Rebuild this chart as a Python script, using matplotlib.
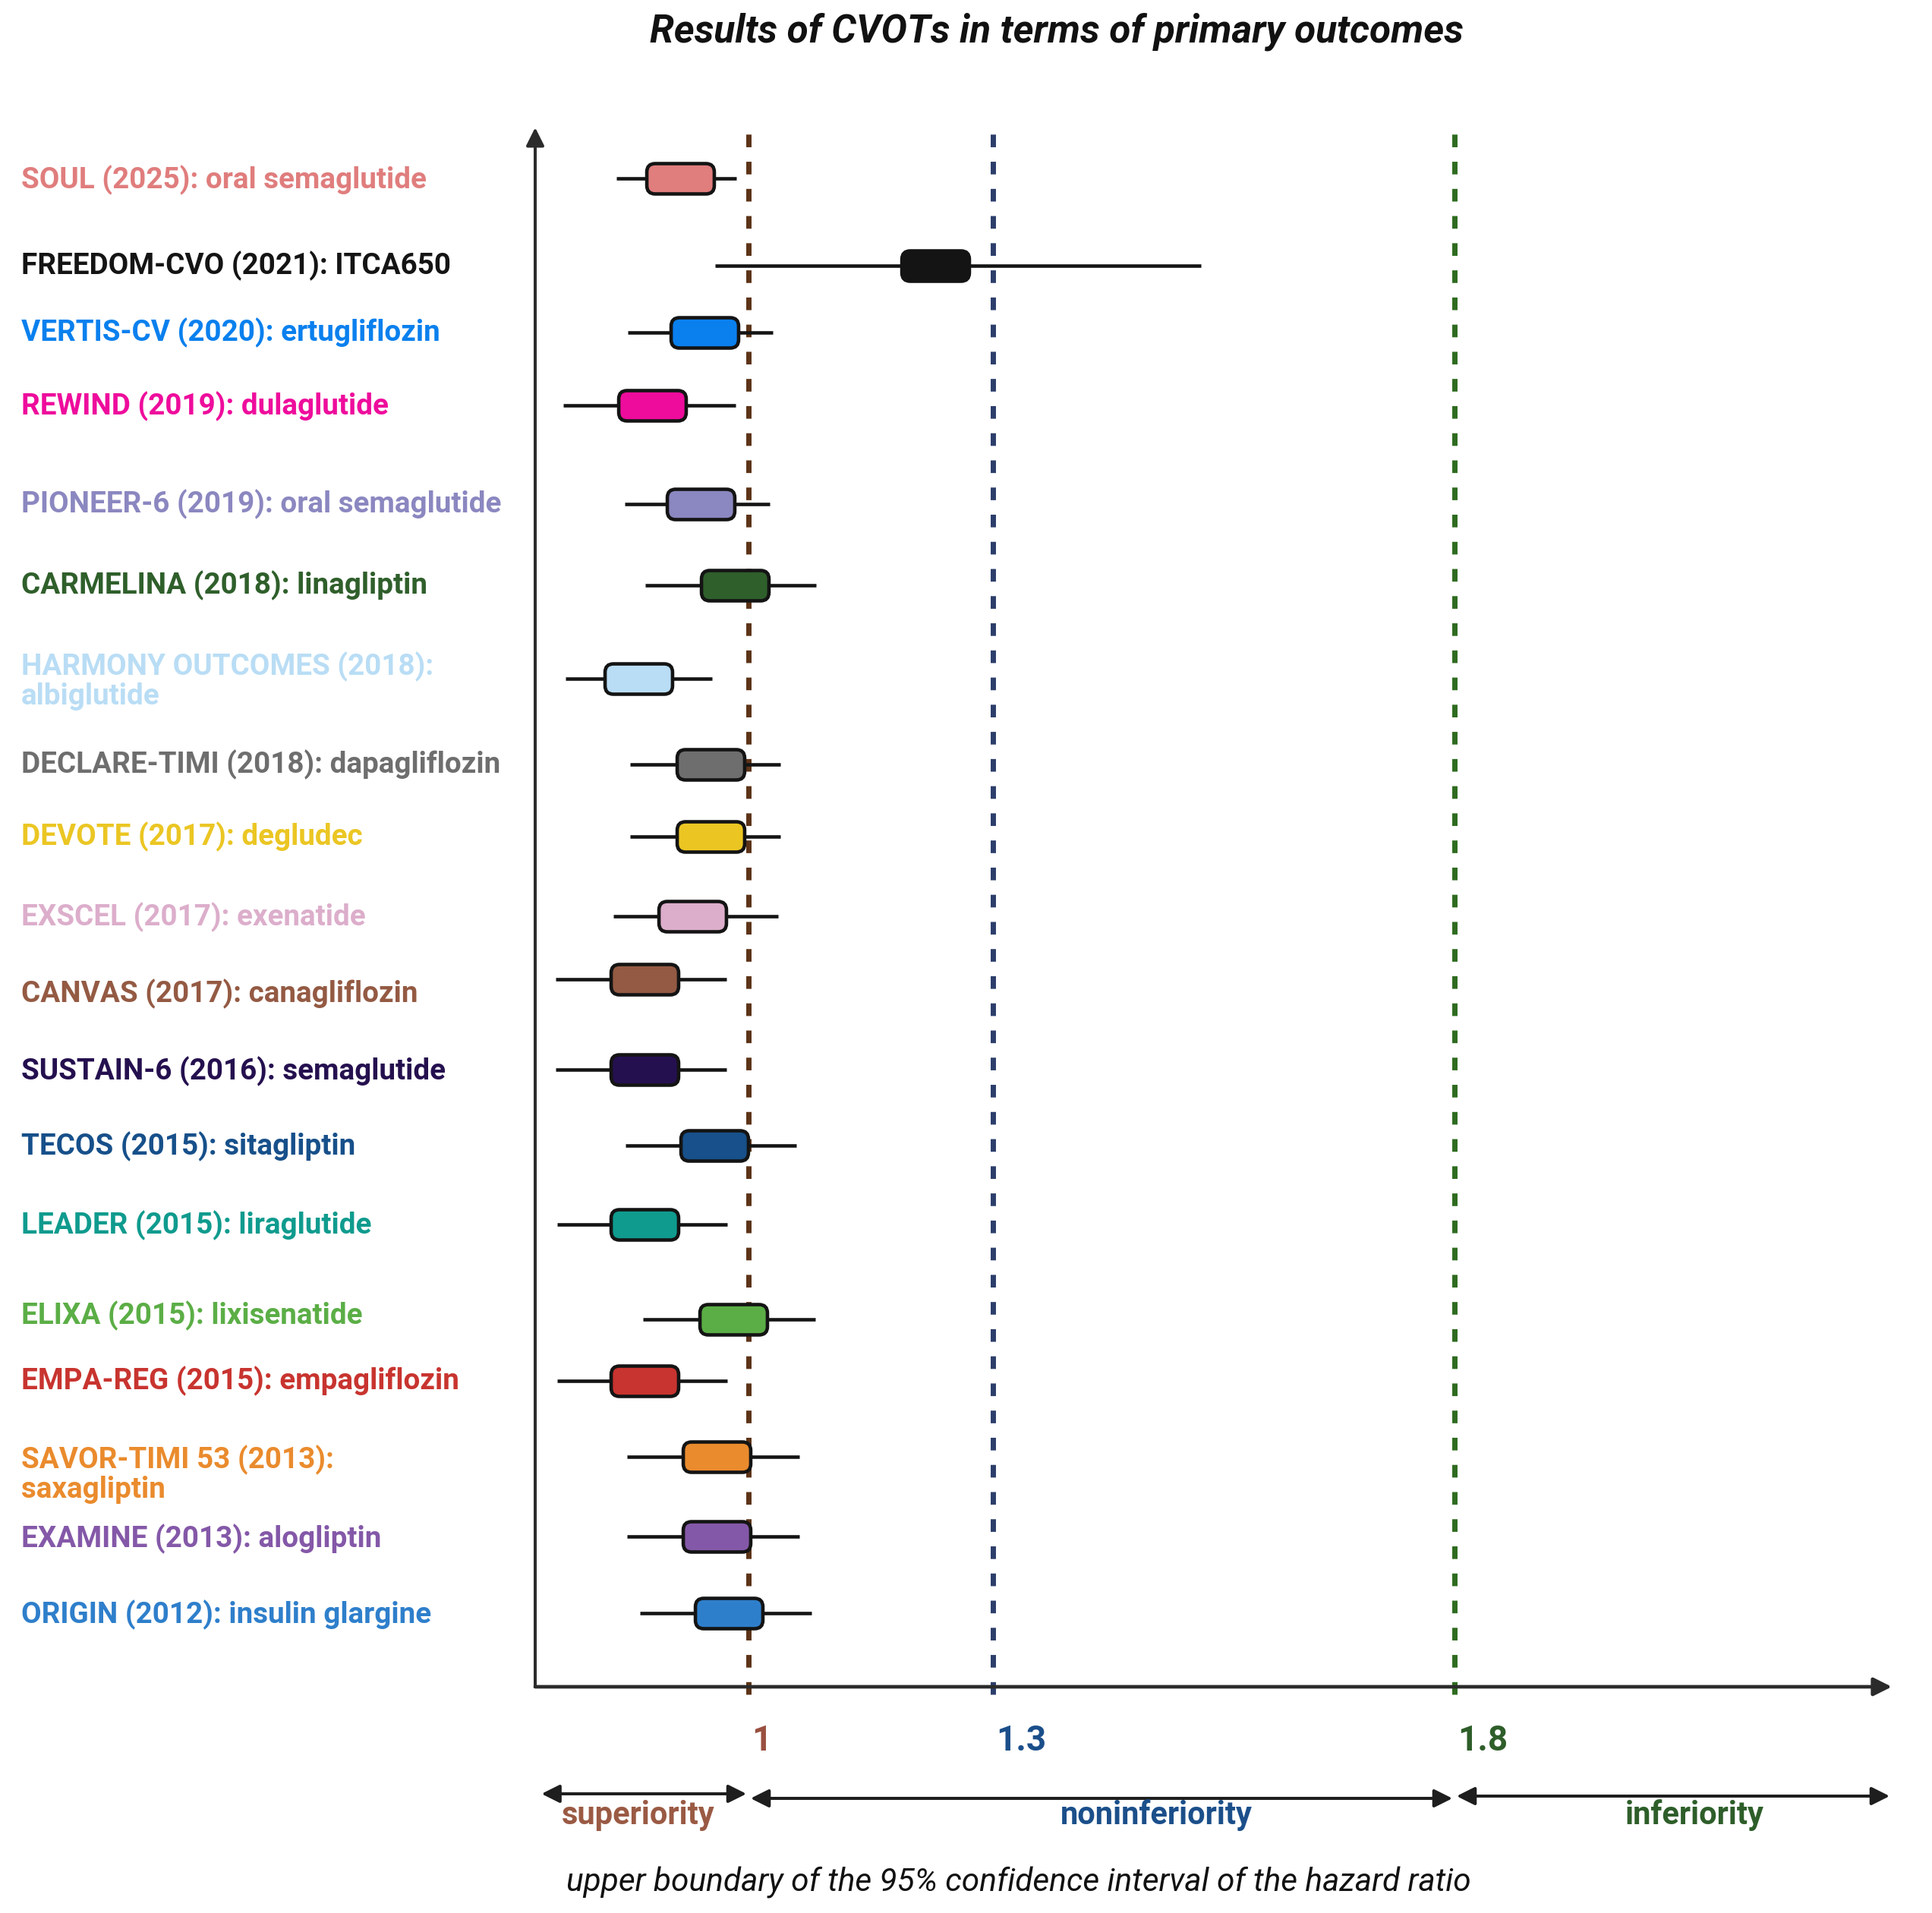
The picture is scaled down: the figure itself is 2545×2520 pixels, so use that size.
import numpy as np
import matplotlib
matplotlib.use("Agg")
import matplotlib.pyplot as plt
from matplotlib.patches import BoxStyle
from matplotlib.transforms import blended_transform_factory

plt.rcParams['font.family'] = ['Roboto', 'DejaVu Sans']

# ---------------------------------------------------------------------------
# data: trials from top to bottom, hazard ratio and 95% CI as drawn
# ---------------------------------------------------------------------------
trials = [
    "SOUL (2025): oral semaglutide",
    "FREEDOM-CVO (2021): ITCA650",
    "VERTIS-CV (2020): ertugliflozin",
    "REWIND (2019): dulaglutide",
    "PIONEER-6 (2019): oral semaglutide",
    "CARMELINA (2018): linagliptin",
    "HARMONY OUTCOMES (2018):\nalbiglutide",
    "DECLARE-TIMI (2018): dapagliflozin",
    "DEVOTE (2017): degludec",
    "EXSCEL (2017): exenatide",
    "CANVAS (2017): canagliflozin",
    "SUSTAIN-6 (2016): semaglutide",
    "TECOS (2015): sitagliptin",
    "LEADER (2015): liraglutide",
    "ELIXA (2015): lixisenatide",
    "EMPA-REG (2015): empagliflozin",
    "SAVOR-TIMI 53 (2013):\nsaxagliptin",
    "EXAMINE (2013): alogliptin",
    "ORIGIN (2012): insulin glargine",
]
hr    = [0.916, 1.229, 0.946, 0.882, 0.941, 0.983, 0.865, 0.953, 0.953, 0.931,
         0.872, 0.872, 0.958, 0.872, 0.981, 0.872, 0.961, 0.961, 0.976]
ci_lo = [0.838, 0.959, 0.852, 0.773, 0.848, 0.873, 0.775, 0.855, 0.855, 0.834,
         0.763, 0.763, 0.849, 0.765, 0.870, 0.765, 0.851, 0.851, 0.867]
ci_hi = [0.985, 1.525, 1.030, 0.984, 1.026, 1.083, 0.955, 1.039, 1.039, 1.036,
         0.973, 0.973, 1.059, 0.974, 1.082, 0.974, 1.062, 1.062, 1.077]
colours = ["#e07d7d", "#141414", "#0a80ee", "#ee0c9c", "#8b87c0", "#2f5f2b",
           "#b9ddf5", "#6e6e6e", "#ebc623", "#dcaecb", "#945a43", "#25104f",
           "#17508a", "#0f9b8e", "#5bae46", "#c8342f", "#ea8b2d", "#8458a8",
           "#2e7fcb"]

margins = [1.0, 1.3, 1.8]
margin_labels = ["1", "1.3", "1.8"]
margin_line_col = ["#5c3317", "#2c3e6b", "#2e6b1f"]
margin_text_col = ["#9a5040", "#1b4f8a", "#2e5e2a"]
zones = ["superiority", "noninferiority", "inferiority"]
zone_col = ["#9a5a44", "#1b4f8a", "#2e5e2a"]

# layout: row centres (axis units, counted downward from the top)
box_pos = [235, 350, 438, 534, 664, 771, 894, 1007, 1102, 1207, 1290, 1409,
           1509, 1613, 1738, 1819, 1919, 2024, 2125]
lab_pos = [237, 350, 438, 535, 664, 771, 897, 1007, 1102, 1208, 1309, 1411,
           1510, 1614, 1733, 1819, 1942, 2027, 2127]

# x axis is not linear in the original drawing: piecewise between margins
hr_knots = np.array([-10.0, 1.0, 1.3, 1.8, 10.0])
pos_knots = np.array([-11 * 1073.0, 0.0, 322.0, 930.0, 930.0 + 8.2 * 1216])


def fwd(x):
    return np.interp(x, hr_knots, pos_knots)


def inv(y):
    return np.interp(y, pos_knots, hr_knots)


fig = plt.figure(figsize=(25.45, 25.20), dpi=100)
W, H = 2545., 2520.
ax = fig.add_axes([705 / W, 1 - 2222 / H, (2492 - 705) / W, (2222 - 168) / H])
ax.set_xscale('function', functions=(fwd, inv))
ax.set_xlim(0.7381, 2.2737)
ax.set_ylim(2222, 168)
ax.axis('off')

# margin lines
for m, c in zip(margins, margin_line_col):
    ax.plot([m, m], [2232, 170], color=c, lw=5, ls=(0, (2.4, 2.75)),
            clip_on=False, zorder=1)

# rounded box marker
box = BoxStyle("Round", pad=0, rounding_size=11)(-44.5, -20, 89, 40, 1)

for i in range(len(trials)):
    ax.plot([ci_lo[i], ci_hi[i]], [box_pos[i]] * 2, color="#141414", lw=3.3,
            solid_capstyle='butt', zorder=2)
    ax.plot(hr[i], box_pos[i], marker=box, ms=64, mfc=colours[i],
            mec="#141414", mew=3.3, ls='none', zorder=3)

# axes arrows
arr = dict(arrowstyle='-|>,head_length=0.4,head_width=0.2', mutation_scale=36,
           lw=2.9, color="#2b2b2b", shrinkA=0, shrinkB=0)
ax.annotate('', xy=(0, 1), xytext=(0, 0), xycoords='axes fraction', arrowprops=arr)
ax.annotate('', xy=(1, 0), xytext=(0, 0), xycoords='axes fraction',
            arrowprops=dict(arr, lw=3.4))

# trial labels
tl = blended_transform_factory(fig.transFigure, ax.transData)
for i, t in enumerate(trials):
    fig.text(28 / W, lab_pos[i], t, transform=tl, color=colours[i],
             fontsize=27.8, fontweight='bold', va='center', ha='left',
             linespacing=1.05)

# margin values
tb = blended_transform_factory(ax.transData, fig.transFigure)
for m, lab, c in zip(margins, margin_labels, margin_text_col):
    ax.annotate(lab, xy=(m, 1 - 2293 / H), xycoords=tb, xytext=(3, 0),
                textcoords='offset points', color=c, fontsize=33,
                fontweight='bold', va='center', ha='left')

# zone arrows and labels
x0, x1 = ax.get_xlim()
bounds = [x0, 1.0, 1.8, x1]
arr_y = [2363, 2369, 2366]
zone_x = [0.865, 1.477, 2.06]
darr = dict(arrowstyle='<|-|>,head_length=0.4,head_width=0.2', mutation_scale=36,
            lw=2.9, color="#1e1e1e")
for k in range(3):
    ax.annotate('', xy=(bounds[k + 1], 1 - arr_y[k] / H), xycoords=tb,
                xytext=(bounds[k], 1 - arr_y[k] / H), textcoords=tb,
                arrowprops=dict(darr, shrinkA=2 if k else -6, shrinkB=2))
    ax.text(zone_x[k], 1 - 2391 / H, zones[k], transform=tb, color=zone_col[k],
            fontsize=30, fontweight='bold', ha='center', va='center')

fig.text(1392 / W, 1 - 42 / H, "Results of CVOTs in terms of primary outcomes",
         fontsize=37, fontweight='bold', fontstyle='italic', ha='center',
         va='center', color="#111111")
fig.text(1342 / W, 1 - 2480 / H,
         "upper boundary of the 95% confidence interval of the hazard ratio",
         fontsize=30.5, fontstyle='italic', ha='center', va='center',
         color="#111111")

fig.savefig("out.png", dpi=100, facecolor='white')
